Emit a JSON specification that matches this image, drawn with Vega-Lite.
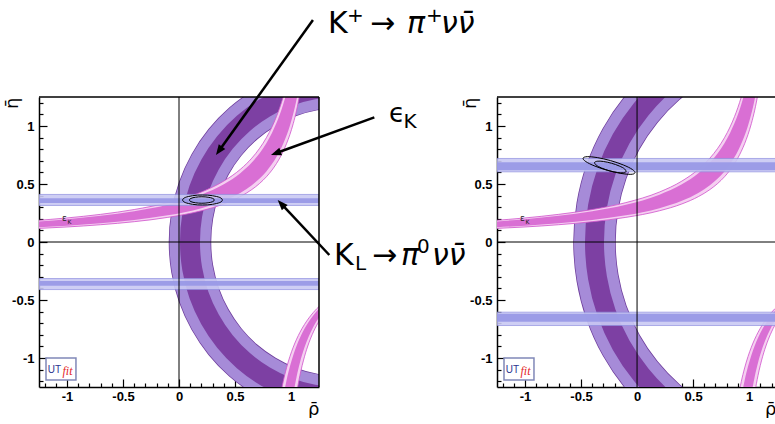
{
"$schema":"https://vega.github.io/schema/vega-lite/v6.json",
"background":"white",
"autosize":{"type":"pad"},
"padding":{"left":3,"top":5,"right":0,"bottom":0},
"config":{
 "view":{"stroke":null},
 "axis":{"domainColor":"black","domainWidth":1.5,"tickColor":"black","tickWidth":1.2,"labelFont":"Liberation Sans","labelFontWeight":"bold","labelFontSize":13,"labelColor":"black","grid":false,"titleFont":"DejaVu Sans","titleFontWeight":"normal","titleColor":"black"},
 "text":{"font":"DejaVu Sans","align":"left","baseline":"alphabetic","color":"black"}
},
"datasets":{
 "ringL":[{"i":0,"x":1.890,"y":1.255},{"i":1,"x":1.665,"y":1.315},{"i":2,"x":1.433,"y":1.335},{"i":3,"x":1.201,"y":1.315},{"i":4,"x":0.976,"y":1.255},{"i":5,"x":0.766,"y":1.156},{"i":6,"x":0.575,"y":1.023},{"i":7,"x":0.410,"y":0.858},{"i":8,"x":0.277,"y":0.668},{"i":9,"x":0.178,"y":0.457},{"i":10,"x":0.118,"y":0.232},{"i":11,"x":0.098,"y":0},{"i":12,"x":0.118,"y":-0.232},{"i":13,"x":0.178,"y":-0.457},{"i":14,"x":0.277,"y":-0.668},{"i":15,"x":0.410,"y":-0.858},{"i":16,"x":0.575,"y":-1.023},{"i":17,"x":0.766,"y":-1.156},{"i":18,"x":0.976,"y":-1.255},{"i":19,"x":1.201,"y":-1.315},{"i":20,"x":1.433,"y":-1.335},{"i":21,"x":1.665,"y":-1.315},{"i":22,"x":1.890,"y":-1.255}],
 "ringR":[{"i":0,"x":1.091,"y":1.753},{"i":1,"x":0.791,"y":1.673},{"i":2,"x":0.510,"y":1.542},{"i":3,"x":0.256,"y":1.364},{"i":4,"x":0.037,"y":1.144},{"i":5,"x":-0.142,"y":0.890},{"i":6,"x":-0.273,"y":0.609},{"i":7,"x":-0.353,"y":0.309},{"i":8,"x":-0.380,"y":0},{"i":9,"x":-0.353,"y":-0.309},{"i":10,"x":-0.273,"y":-0.609},{"i":11,"x":-0.142,"y":-0.890},{"i":12,"x":0.037,"y":-1.144},{"i":13,"x":0.256,"y":-1.364},{"i":14,"x":0.510,"y":-1.542},{"i":15,"x":0.791,"y":-1.673},{"i":16,"x":1.091,"y":-1.753}],
 "pinkUo":[{"x":-1.3,"y":0.1148,"y2":0.1836},{"x":-1.0,"y":0.1296,"y2":0.2074},{"x":-0.7,"y":0.149,"y2":0.2383},{"x":-0.4,"y":0.175,"y2":0.28},{"x":-0.1,"y":0.2122,"y2":0.3395},{"x":0.2,"y":0.2693,"y2":0.4309},{"x":0.4,"y":0.3282,"y2":0.5252},{"x":0.55,"y":0.3927,"y2":0.6283},{"x":0.65,"y":0.4518,"y2":0.7229},{"x":0.72,"y":0.5051,"y2":0.8081},{"x":0.78,"y":0.5618,"y2":0.8989},{"x":0.83,"y":0.6198,"y2":0.9917},{"x":0.87,"y":0.6757,"y2":1.0811},{"x":0.9,"y":0.7246,"y2":1.1594},{"x":0.93,"y":0.7813,"y2":1.25},{"x":0.96,"y":0.8475,"y2":1.3559},{"x":0.99,"y":0.9259,"y2":1.4},{"x":1.02,"y":1.0204,"y2":1.4},{"x":1.05,"y":1.1364,"y2":1.4},{"x":1.08,"y":1.2821,"y2":1.4}],
 "pinkUi":[{"x":-1.3,"y":0.1243,"y2":0.1741},{"x":-1.0,"y":0.1404,"y2":0.1966},{"x":-0.7,"y":0.1614,"y2":0.2259},{"x":-0.4,"y":0.1896,"y2":0.2655},{"x":-0.1,"y":0.2298,"y2":0.3218},{"x":0.2,"y":0.2917,"y2":0.4084},{"x":0.4,"y":0.3556,"y2":0.4978},{"x":0.55,"y":0.4254,"y2":0.5955},{"x":0.65,"y":0.4895,"y2":0.6852},{"x":0.72,"y":0.5471,"y2":0.766},{"x":0.78,"y":0.6086,"y2":0.8521},{"x":0.83,"y":0.6715,"y2":0.9401},{"x":0.87,"y":0.732,"y2":1.0248},{"x":0.9,"y":0.785,"y2":1.099},{"x":0.93,"y":0.8464,"y2":1.1849},{"x":0.96,"y":0.9181,"y2":1.2853},{"x":0.99,"y":1.0031,"y2":1.4},{"x":1.02,"y":1.1054,"y2":1.4},{"x":1.05,"y":1.2311,"y2":1.4},{"x":1.08,"y":1.3889,"y2":1.4}],
 "pinkLo":[{"x":0.9,"y":-1.3525,"y2":-1.6},{"x":0.93,"y":-1.2044,"y2":-1.6},{"x":0.96,"y":-1.0855,"y2":-1.6},{"x":0.99,"y":-0.988,"y2":-1.6},{"x":1.02,"y":-0.9066,"y2":-1.5132},{"x":1.05,"y":-0.8376,"y2":-1.3059},{"x":1.08,"y":-0.7783,"y2":-1.1486},{"x":1.12,"y":-0.7112,"y2":-0.9896},{"x":1.16,"y":-0.6548,"y2":-0.8693},{"x":1.2,"y":-0.6066,"y2":-0.7751},{"x":1.26,"y":-0.5464,"y2":-0.6667}],
 "pinkLi":[{"x":0.9,"y":-1.5359,"y2":-1.6},{"x":0.93,"y":-1.3431,"y2":-1.6},{"x":0.96,"y":-1.1933,"y2":-1.6},{"x":0.99,"y":-1.0736,"y2":-1.5206},{"x":1.02,"y":-0.9757,"y2":-1.317},{"x":1.05,"y":-0.8942,"y2":-1.1614},{"x":1.08,"y":-0.8252,"y2":-1.0387},{"x":1.12,"y":-0.7483,"y2":-0.9105},{"x":1.16,"y":-0.6844,"y2":-0.8104},{"x":1.2,"y":-0.6306,"y2":-0.7302},{"x":1.26,"y":-0.5641,"y2":-0.6358}],
 "blueLo":[{"x":-1.25,"x2":1.25,"y":0.315,"y2":0.41},{"x":-1.25,"x2":1.25,"y":-0.41,"y2":-0.315}],
 "blueLi":[{"x":-1.25,"x2":1.25,"y":0.336,"y2":0.378},{"x":-1.25,"x2":1.25,"y":-0.378,"y2":-0.336}],
 "blueRo":[{"x":-1.25,"x2":1.25,"y":0.605,"y2":0.72},{"x":-1.25,"x2":1.25,"y":-0.72,"y2":-0.605}],
 "blueRi":[{"x":-1.25,"x2":1.25,"y":0.618,"y2":0.688},{"x":-1.25,"x2":1.25,"y":-0.688,"y2":-0.618}],
 "ellL":[{"e":"o","i":0,"x":0.388,"y":0.362},{"e":"o","i":1,"x":0.382,"y":0.373},{"e":"o","i":2,"x":0.364,"y":0.384},{"e":"o","i":3,"x":0.336,"y":0.392},{"e":"o","i":4,"x":0.299,"y":0.399},{"e":"o","i":5,"x":0.256,"y":0.404},{"e":"o","i":6,"x":0.21,"y":0.405},{"e":"o","i":7,"x":0.164,"y":0.404},{"e":"o","i":8,"x":0.121,"y":0.399},{"e":"o","i":9,"x":0.084,"y":0.392},{"e":"o","i":10,"x":0.056,"y":0.384},{"e":"o","i":11,"x":0.038,"y":0.373},{"e":"o","i":12,"x":0.032,"y":0.362},{"e":"o","i":13,"x":0.038,"y":0.351},{"e":"o","i":14,"x":0.056,"y":0.34},{"e":"o","i":15,"x":0.084,"y":0.332},{"e":"o","i":16,"x":0.121,"y":0.325},{"e":"o","i":17,"x":0.164,"y":0.32},{"e":"o","i":18,"x":0.21,"y":0.319},{"e":"o","i":19,"x":0.256,"y":0.32},{"e":"o","i":20,"x":0.299,"y":0.325},{"e":"o","i":21,"x":0.336,"y":0.332},{"e":"o","i":22,"x":0.364,"y":0.34},{"e":"o","i":23,"x":0.382,"y":0.351},{"e":"o","i":24,"x":0.388,"y":0.362},
  {"e":"i","i":0,"x":0.316,"y":0.362},{"e":"i","i":1,"x":0.312,"y":0.369},{"e":"i","i":2,"x":0.301,"y":0.376},{"e":"i","i":3,"x":0.283,"y":0.382},{"e":"i","i":4,"x":0.26,"y":0.386},{"e":"i","i":5,"x":0.233,"y":0.389},{"e":"i","i":6,"x":0.204,"y":0.39},{"e":"i","i":7,"x":0.175,"y":0.389},{"e":"i","i":8,"x":0.148,"y":0.386},{"e":"i","i":9,"x":0.125,"y":0.382},{"e":"i","i":10,"x":0.107,"y":0.376},{"e":"i","i":11,"x":0.096,"y":0.369},{"e":"i","i":12,"x":0.092,"y":0.362},{"e":"i","i":13,"x":0.096,"y":0.355},{"e":"i","i":14,"x":0.107,"y":0.348},{"e":"i","i":15,"x":0.125,"y":0.342},{"e":"i","i":16,"x":0.148,"y":0.338},{"e":"i","i":17,"x":0.175,"y":0.335},{"e":"i","i":18,"x":0.204,"y":0.334},{"e":"i","i":19,"x":0.233,"y":0.335},{"e":"i","i":20,"x":0.26,"y":0.338},{"e":"i","i":21,"x":0.283,"y":0.342},{"e":"i","i":22,"x":0.301,"y":0.348},{"e":"i","i":23,"x":0.312,"y":0.355},{"e":"i","i":24,"x":0.316,"y":0.362}],
 "ellR":[{"e":"o","i":0,"x":-0.0181,"y":0.5962},{"e":"o","i":1,"x":-0.0292,"y":0.5874},{"e":"o","i":2,"x":-0.0554,"y":0.5835},{"e":"o","i":3,"x":-0.0948,"y":0.5848},{"e":"o","i":4,"x":-0.1447,"y":0.5912},{"e":"o","i":5,"x":-0.2019,"y":0.6022},{"e":"o","i":6,"x":-0.2624,"y":0.6172},{"e":"o","i":7,"x":-0.3221,"y":0.635},{"e":"o","i":8,"x":-0.3767,"y":0.6546},{"e":"o","i":9,"x":-0.4228,"y":0.6744},{"e":"o","i":10,"x":-0.457,"y":0.6931},{"e":"o","i":11,"x":-0.4772,"y":0.7096},{"e":"o","i":12,"x":-0.4819,"y":0.7228},{"e":"o","i":13,"x":-0.4708,"y":0.7316},{"e":"o","i":14,"x":-0.4446,"y":0.7355},{"e":"o","i":15,"x":-0.4052,"y":0.7342},{"e":"o","i":16,"x":-0.3553,"y":0.7278},{"e":"o","i":17,"x":-0.2981,"y":0.7168},{"e":"o","i":18,"x":-0.2376,"y":0.7018},{"e":"o","i":19,"x":-0.1779,"y":0.684},{"e":"o","i":20,"x":-0.1233,"y":0.6644},{"e":"o","i":21,"x":-0.0772,"y":0.6446},{"e":"o","i":22,"x":-0.043,"y":0.6259},{"e":"o","i":23,"x":-0.0228,"y":0.6094},{"e":"o","i":24,"x":-0.0181,"y":0.5962},
  {"e":"i","i":0,"x":-0.0963,"y":0.6079},{"e":"i","i":1,"x":-0.12,"y":0.5969},{"e":"i","i":2,"x":-0.1753,"y":0.5992},{"e":"i","i":3,"x":-0.2475,"y":0.6143},{"e":"i","i":4,"x":-0.3171,"y":0.638},{"e":"i","i":5,"x":-0.3654,"y":0.6639},{"e":"i","i":6,"x":-0.3797,"y":0.6853},{"e":"i","i":7,"x":-0.356,"y":0.6963},{"e":"i","i":8,"x":-0.3007,"y":0.694},{"e":"i","i":9,"x":-0.2285,"y":0.6789},{"e":"i","i":10,"x":-0.1589,"y":0.6552},{"e":"i","i":11,"x":-0.1106,"y":0.6293},{"e":"i","i":12,"x":-0.0963,"y":0.6079}],
 "zeroV":[{"x":0,"y":-1.25,"y2":1.25}],
 "zeroHL":[{"x":-1.25,"x2":1.25,"y":0}],
 "zeroHR":[{"x":-1.25,"x2":1.24,"y":0}],
 "topL":[{"x":-1.25,"x2":1.25,"y":1.25}],
 "topR":[{"x":-1.25,"x2":1.24,"y":1.25}],
 "rightL":[{"x":1.25,"y":-1.25,"y2":1.25}],
 "logoBox":[{"x":-1.1875,"x2":-0.92,"y":-1.19,"y2":-1.0}],
 "logoUT":[{"x":-1.172,"y":-1.13,"t":"UT"}],
 "logoFit":[{"x":-1.04,"y":-1.147,"t":"fit"}],
 "epsSmall":[{"x":-1.045,"y":0.178,"t":"ε"}],
 "kSmall":[{"x":-0.995,"y":0.158,"t":"K"}],
 "arrows":[{"x":1.196,"y":1.914,"x2":0.356,"y2":0.785},{"x":1.744,"y":1.075,"x2":0.863,"y2":0.765},{"x":1.342,"y":-0.112,"x2":0.912,"y2":0.33}],
 "head1":[{"x":0.33,"y":0.75}],
 "head2":[{"x":0.821,"y":0.75}],
 "head3":[{"x":0.881,"y":0.362}],
 "annBig":[{"x":1.33,"y":1.8,"t":"K"},{"x":1.705,"y":1.8,"t":"→"},{"x":1.384,"y":-0.198,"t":"K"},{"x":1.723,"y":-0.198,"t":"→"}],
 "annBigIt":[{"x":2.036,"y":1.8,"t":"π"},{"x":2.339,"y":1.8,"t":"νν̄"},{"x":1.982,"y":-0.198,"t":"π"},{"x":2.259,"y":-0.198,"t":"νν̄"}],
 "annSmall":[{"x":1.5,"y":1.897,"t":"+"},{"x":2.205,"y":1.897,"t":"+"},{"x":2.125,"y":-0.095,"t":"0"},{"x":1.571,"y":-0.241,"t":"L"}],
 "annEpsK":[{"x":2.005,"y":0.983,"t":"K"}],
 "annEps":[{"x":1.875,"y":1.034,"t":"ϵ"}]
},
"hconcat":[
 {
  "width":280,"height":290,
  "encoding":{
   "x":{"field":"x","type":"quantitative","scale":{"domain":[-1.25,1.25],"nice":false,"zero":false},
    "axis":{"values":[-1.2,-1.1,-1,-0.9,-0.8,-0.7,-0.6,-0.5,-0.4,-0.3,-0.2,-0.1,0,0.1,0.2,0.3,0.4,0.5,0.6,0.7,0.8,0.9,1,1.1,1.2],"format":".1~f","labelExpr":"abs(datum.value*2-round(datum.value*2))<0.001 ? replace(datum.label,'−','-') : ''","tickSize":{"condition":{"test":"abs(datum.value*2-round(datum.value*2))<0.001","value":-8},"value":-4},"labelPadding":11,"labelOverlap":false,"labelFlush":false,"labelBound":false,"title":"ρ̄","titleX":280,"titleY":27,"titleAlign":"right","titleBaseline":"alphabetic","titleFontSize":18}},
   "y":{"field":"y","type":"quantitative","scale":{"domain":[-1.25,1.25],"nice":false,"zero":false},
    "axis":{"values":[-1.2,-1.1,-1,-0.9,-0.8,-0.7,-0.6,-0.5,-0.4,-0.3,-0.2,-0.1,0,0.1,0.2,0.3,0.4,0.5,0.6,0.7,0.8,0.9,1,1.1,1.2],"format":".1~f","labelExpr":"abs(datum.value*2-round(datum.value*2))<0.001 ? replace(datum.label,'−','-') : ''","tickSize":{"condition":{"test":"abs(datum.value*2-round(datum.value*2))<0.001","value":-8},"value":-4},"labelPadding":13,"labelOverlap":false,"labelFlush":false,"labelBound":false,"title":"η̄","titleX":-27,"titleY":0,"titleAngle":270,"titleAlign":"right","titleBaseline":"middle","titleFontSize":18}}
  },
  "layer":[
   {"data":{"name":"ringL"},"mark":{"type":"line","interpolate":"catmull-rom","clip":true,"strokeWidth":42.5,"color":"#6e3d9c","strokeCap":"butt"},"encoding":{"order":{"field":"i","type":"quantitative"}}},
   {"data":{"name":"ringL"},"mark":{"type":"line","interpolate":"catmull-rom","clip":true,"strokeWidth":41,"color":"#a68bd8","strokeCap":"butt"},"encoding":{"order":{"field":"i","type":"quantitative"}}},
   {"data":{"name":"ringL"},"mark":{"type":"line","interpolate":"catmull-rom","clip":true,"strokeWidth":20,"color":"#7d40a3","strokeCap":"butt"},"encoding":{"order":{"field":"i","type":"quantitative"}}},
   {"data":{"name":"pinkUo"},"mark":{"type":"area","interpolate":"monotone","clip":true,"fill":"#f5cff1","stroke":"#cf52cb","strokeWidth":0.8},"encoding":{"y2":{"field":"y2"}}},
   {"data":{"name":"pinkUi"},"mark":{"type":"area","interpolate":"monotone","clip":true,"fill":"#d96fd4"},"encoding":{"y2":{"field":"y2"}}},
   {"data":{"name":"pinkLo"},"mark":{"type":"area","interpolate":"monotone","clip":true,"fill":"#f5cff1","stroke":"#cf52cb","strokeWidth":0.8},"encoding":{"y2":{"field":"y2"}}},
   {"data":{"name":"pinkLi"},"mark":{"type":"area","interpolate":"monotone","clip":true,"fill":"#d96fd4"},"encoding":{"y2":{"field":"y2"}}},
   {"data":{"name":"blueLo"},"mark":{"type":"rect","clip":true,"fill":"#c9c9f3","stroke":"#8f8fe0","strokeWidth":0.8,"opacity":0.9},"encoding":{"x2":{"field":"x2"},"y2":{"field":"y2"}}},
   {"data":{"name":"blueLi"},"mark":{"type":"rect","clip":true,"fill":"#9797e6","opacity":0.9},"encoding":{"x2":{"field":"x2"},"y2":{"field":"y2"}}},
   {"data":{"name":"zeroV"},"mark":{"type":"rule","color":"black","strokeWidth":1},"encoding":{"y2":{"field":"y2"}}},
   {"data":{"name":"zeroHL"},"mark":{"type":"rule","color":"black","strokeWidth":1},"encoding":{"x2":{"field":"x2"}}},
   {"data":{"name":"ellL"},"mark":{"type":"line","interpolate":"catmull-rom","clip":true,"strokeWidth":1,"color":"black"},"encoding":{"detail":{"field":"e"},"order":{"field":"i","type":"quantitative"}}},
   {"data":{"name":"topL"},"mark":{"type":"rule","color":"black","strokeWidth":1.5},"encoding":{"x2":{"field":"x2"}}},
   {"data":{"name":"rightL"},"mark":{"type":"rule","color":"black","strokeWidth":1.5},"encoding":{"y2":{"field":"y2"}}},
   {"data":{"name":"logoBox"},"mark":{"type":"rect","fill":"white","stroke":"#8088b8","strokeWidth":1.5},"encoding":{"x2":{"field":"x2"},"y2":{"field":"y2"}}},
   {"data":{"name":"logoUT"},"mark":{"type":"text","font":"Liberation Sans","fontSize":10,"color":"#2a3590"},"encoding":{"text":{"field":"t"}}},
   {"data":{"name":"logoFit"},"mark":{"type":"text","font":"Liberation Serif","fontSize":12,"fontStyle":"italic","color":"#e3262b"},"encoding":{"text":{"field":"t"}}},
   {"data":{"name":"epsSmall"},"mark":{"type":"text","fontSize":9,"color":"#222222"},"encoding":{"text":{"field":"t"}}},
   {"data":{"name":"kSmall"},"mark":{"type":"text","fontSize":6,"color":"#222222"},"encoding":{"text":{"field":"t"}}},
   {"data":{"name":"arrows"},"mark":{"type":"rule","color":"black","strokeWidth":2.5},"encoding":{"x2":{"field":"x2"},"y2":{"field":"y2"}}},
   {"data":{"name":"head1"},"mark":{"type":"point","shape":"M0,0L-1,2.6L1,2.6Z","size":64,"filled":true,"color":"black","opacity":1,"angle":215.7}},
   {"data":{"name":"head2"},"mark":{"type":"point","shape":"M0,0L-1,2.6L1,2.6Z","size":64,"filled":true,"color":"black","opacity":1,"angle":249.8}},
   {"data":{"name":"head3"},"mark":{"type":"point","shape":"M0,0L-1,2.6L1,2.6Z","size":64,"filled":true,"color":"black","opacity":1,"angle":317}},
   {"data":{"name":"annBig"},"mark":{"type":"text","fontSize":30},"encoding":{"text":{"field":"t"}}},
   {"data":{"name":"annBigIt"},"mark":{"type":"text","fontSize":30,"fontStyle":"italic"},"encoding":{"text":{"field":"t"}}},
   {"data":{"name":"annSmall"},"mark":{"type":"text","fontSize":20},"encoding":{"text":{"field":"t"}}},
   {"data":{"name":"annEpsK"},"mark":{"type":"text","fontSize":20},"encoding":{"text":{"field":"t"}}},
   {"data":{"name":"annEps"},"mark":{"type":"text","fontSize":26},"encoding":{"text":{"field":"t"}}}
  ]
 },
 {
  "width":279,"height":290,
  "encoding":{
   "x":{"field":"x","type":"quantitative","scale":{"domain":[-1.25,1.24],"nice":false,"zero":false},
    "axis":{"values":[-1.2,-1.1,-1,-0.9,-0.8,-0.7,-0.6,-0.5,-0.4,-0.3,-0.2,-0.1,0,0.1,0.2,0.3,0.4,0.5,0.6,0.7,0.8,0.9,1,1.1,1.2],"format":".1~f","labelExpr":"abs(datum.value*2-round(datum.value*2))<0.001 ? replace(datum.label,'−','-') : ''","tickSize":{"condition":{"test":"abs(datum.value*2-round(datum.value*2))<0.001","value":-8},"value":-4},"labelPadding":11,"labelOverlap":false,"labelFlush":false,"labelBound":false,"title":"ρ̄","titleX":279,"titleY":27,"titleAlign":"right","titleBaseline":"alphabetic","titleFontSize":18}},
   "y":{"field":"y","type":"quantitative","scale":{"domain":[-1.25,1.25],"nice":false,"zero":false},
    "axis":{"values":[-1.2,-1.1,-1,-0.9,-0.8,-0.7,-0.6,-0.5,-0.4,-0.3,-0.2,-0.1,0,0.1,0.2,0.3,0.4,0.5,0.6,0.7,0.8,0.9,1,1.1,1.2],"format":".1~f","labelExpr":"abs(datum.value*2-round(datum.value*2))<0.001 ? replace(datum.label,'−','-') : ''","tickSize":{"condition":{"test":"abs(datum.value*2-round(datum.value*2))<0.001","value":-8},"value":-4},"labelPadding":13,"labelOverlap":false,"labelFlush":false,"labelBound":false,"title":"η̄","titleX":-27,"titleY":0,"titleAngle":270,"titleAlign":"right","titleBaseline":"middle","titleFontSize":18}}
  },
  "layer":[
   {"data":{"name":"ringR"},"mark":{"type":"line","interpolate":"catmull-rom","clip":true,"strokeWidth":42.5,"color":"#6e3d9c","strokeCap":"butt"},"encoding":{"order":{"field":"i","type":"quantitative"}}},
   {"data":{"name":"ringR"},"mark":{"type":"line","interpolate":"catmull-rom","clip":true,"strokeWidth":41,"color":"#a68bd8","strokeCap":"butt"},"encoding":{"order":{"field":"i","type":"quantitative"}}},
   {"data":{"name":"ringR"},"mark":{"type":"line","interpolate":"catmull-rom","clip":true,"strokeWidth":19,"color":"#7d40a3","strokeCap":"butt"},"encoding":{"order":{"field":"i","type":"quantitative"}}},
   {"data":{"name":"pinkUo"},"mark":{"type":"area","interpolate":"monotone","clip":true,"fill":"#f5cff1","stroke":"#cf52cb","strokeWidth":0.8},"encoding":{"y2":{"field":"y2"}}},
   {"data":{"name":"pinkUi"},"mark":{"type":"area","interpolate":"monotone","clip":true,"fill":"#d96fd4"},"encoding":{"y2":{"field":"y2"}}},
   {"data":{"name":"pinkLo"},"mark":{"type":"area","interpolate":"monotone","clip":true,"fill":"#f5cff1","stroke":"#cf52cb","strokeWidth":0.8},"encoding":{"y2":{"field":"y2"}}},
   {"data":{"name":"pinkLi"},"mark":{"type":"area","interpolate":"monotone","clip":true,"fill":"#d96fd4"},"encoding":{"y2":{"field":"y2"}}},
   {"data":{"name":"blueRo"},"mark":{"type":"rect","clip":true,"fill":"#c9c9f3","stroke":"#8f8fe0","strokeWidth":0.8,"opacity":0.9},"encoding":{"x2":{"field":"x2"},"y2":{"field":"y2"}}},
   {"data":{"name":"blueRi"},"mark":{"type":"rect","clip":true,"fill":"#9797e6","opacity":0.9},"encoding":{"x2":{"field":"x2"},"y2":{"field":"y2"}}},
   {"data":{"name":"zeroV"},"mark":{"type":"rule","color":"black","strokeWidth":1},"encoding":{"y2":{"field":"y2"}}},
   {"data":{"name":"zeroHR"},"mark":{"type":"rule","color":"black","strokeWidth":1},"encoding":{"x2":{"field":"x2"}}},
   {"data":{"name":"ellR"},"mark":{"type":"line","interpolate":"catmull-rom","clip":true,"strokeWidth":1,"color":"black"},"encoding":{"detail":{"field":"e"},"order":{"field":"i","type":"quantitative"}}},
   {"data":{"name":"topR"},"mark":{"type":"rule","color":"black","strokeWidth":1.5},"encoding":{"x2":{"field":"x2"}}},
   {"data":{"name":"logoBox"},"mark":{"type":"rect","fill":"white","stroke":"#8088b8","strokeWidth":1.5},"encoding":{"x2":{"field":"x2"},"y2":{"field":"y2"}}},
   {"data":{"name":"logoUT"},"mark":{"type":"text","font":"Liberation Sans","fontSize":10,"color":"#2a3590"},"encoding":{"text":{"field":"t"}}},
   {"data":{"name":"logoFit"},"mark":{"type":"text","font":"Liberation Serif","fontSize":12,"fontStyle":"italic","color":"#e3262b"},"encoding":{"text":{"field":"t"}}},
   {"data":{"name":"epsSmall"},"mark":{"type":"text","fontSize":9,"color":"#222222"},"encoding":{"text":{"field":"t"}}},
   {"data":{"name":"kSmall"},"mark":{"type":"text","fontSize":6,"color":"#222222"},"encoding":{"text":{"field":"t"}}}
  ]
 }
],
"spacing":178,
"bounds":"flush"
}
